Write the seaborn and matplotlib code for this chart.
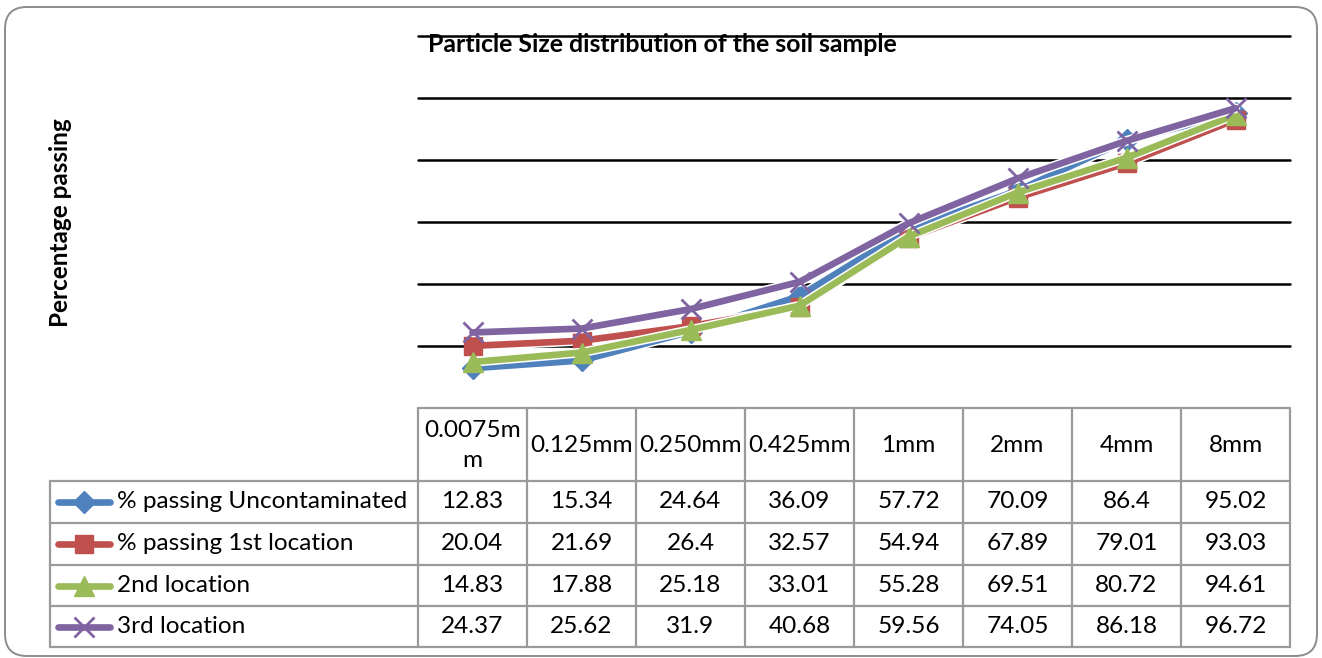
import matplotlib
matplotlib.use("Agg")
import matplotlib.pyplot as plt
from matplotlib.patches import FancyBboxPatch
import seaborn as sns
import pandas as pd
import numpy as np

# ---------------- data ----------------
sizes = ["0.0075mm", "0.125mm", "0.250mm", "0.425mm", "1mm", "2mm", "4mm", "8mm"]
size_labels = ["0.0075m\nm", "0.125mm", "0.250mm", "0.425mm", "1mm", "2mm", "4mm", "8mm"]
series_names = ["% passing Uncontaminated", "% passing 1st location", "2nd location", "3rd location"]
uncontaminated = [12.83, 15.34, 24.64, 36.09, 57.72, 70.09, 86.4, 95.02]
loc1 = [20.04, 21.69, 26.4, 32.57, 54.94, 67.89, 79.01, 93.03]
loc2 = [14.83, 17.88, 25.18, 33.01, 55.28, 69.51, 80.72, 94.61]
loc3 = [24.37, 25.62, 31.9, 40.68, 59.56, 74.05, 86.18, 96.72]
y_ticks = [20, 40, 60, 80, 100, 120]

title = "Particle Size distribution of the soil sample"
ylabel = "Percentage passing"

series_values = [uncontaminated, loc1, loc2, loc3]
colors = ["#4F81BD", "#C0504D", "#9BBB59", "#8064A2"]
markers = ["D", "s", "^", "x"]
msizes = [11, 13, 14, 14]

W, H = 1322, 658
sns.set_theme(style="white")
plt.rcParams["font.family"] = ["Lato", "DejaVu Sans"]

fig = plt.figure(figsize=(W / 100, H / 100), dpi=100)

# overlay axes in pixel coordinates
ov = fig.add_axes([0, 0, 1, 1], zorder=0)
ov.set_xlim(0, W)
ov.set_ylim(H, 0)
ov.axis("off")

# outer rounded border
ov.add_patch(FancyBboxPatch((5, 7), 1312, 649, boxstyle="round,pad=0,rounding_size=22",
                            fill=False, edgecolor="#8c8c8c", linewidth=1.4))

# plot area
px_l, px_r, px_t, px_b = 418, 1290, 36, 408
ax = fig.add_axes([px_l / W, 1 - px_b / H, (px_r - px_l) / W, (px_b - px_t) / H], zorder=2)
ax.set_facecolor("none")
ax.set_xlim(-0.5, len(sizes) - 0.5)
ax.set_ylim(0, 120)
for s in ax.spines.values():
    s.set_visible(False)
ax.set_xticks([])
ax.set_yticks([])
for t in y_ticks:
    ax.axhline(t, color="black", linewidth=1.8, clip_on=False, zorder=1)

xpos = np.arange(len(sizes))
for k, (name, vals, c, m, ms) in enumerate(zip(series_names, series_values, colors, markers, msizes)):
    df = pd.DataFrame({"x": xpos, "y": vals})
    # thin white halo under each line
    sns.lineplot(data=df, x="x", y="y", ax=ax, color="white", linewidth=7,
                 zorder=3 + 2 * k, clip_on=False)
    sns.lineplot(data=df, x="x", y="y", ax=ax, color=c, linewidth=4.8,
                 marker=m, markersize=ms, markeredgecolor=c,
                 markeredgewidth=2 if m == "x" else 1,
                 zorder=4 + 2 * k, clip_on=False)
ax.set_xlabel("")
ax.set_ylabel("")

# title and y label
ov.text(428, 45, title, fontsize=17.9, fontweight="bold", ha="left", va="center", color="black")
ov.text(60, 223, ylabel, fontsize=17.5, fontweight="bold", ha="center", va="center",
        rotation=90, color="black")

# data table
grid_c = "#9a9a9a"
col_edges = [418 + i * 109 for i in range(len(sizes) + 1)]
row_edges = [408, 481, 523, 565, 606, 647]
leg_l = 50
lw = 1.6
for x in col_edges:
    ov.plot([x, x], [row_edges[0], row_edges[-1]], color=grid_c, lw=lw)
ov.plot([col_edges[0], col_edges[-1]], [row_edges[0], row_edges[0]], color=grid_c, lw=lw)
for y in row_edges[1:]:
    ov.plot([leg_l, col_edges[-1]], [y, y], color=grid_c, lw=lw)
ov.plot([leg_l, leg_l], [row_edges[1], row_edges[-1]], color=grid_c, lw=lw)

fs = 17.6
for i, lab in enumerate(size_labels):
    cx = (col_edges[i] + col_edges[i + 1]) / 2
    ov.text(cx, (row_edges[0] + row_edges[1]) / 2 + 1, lab, fontsize=fs, ha="center",
            va="center", linespacing=1.5, color="black")

for r, (name, vals, c, m, ms) in enumerate(zip(series_names, series_values, colors, markers, msizes)):
    cy = (row_edges[r + 1] + row_edges[r + 2]) / 2
    ov.plot([58, 110], [cy, cy], color=c, lw=4.8, solid_capstyle="round")
    ov.plot([84], [cy], marker=m, color=c, markersize=ms, markeredgecolor=c,
            markeredgewidth=2 if m == "x" else 1)
    ov.text(117, cy, name, fontsize=fs, ha="left", va="center", color="black")
    for i, v in enumerate(vals):
        cx = (col_edges[i] + col_edges[i + 1]) / 2
        ov.text(cx, cy, f"{v:g}", fontsize=fs, ha="center", va="center", color="black")

fig.savefig("out.png", dpi=100)
